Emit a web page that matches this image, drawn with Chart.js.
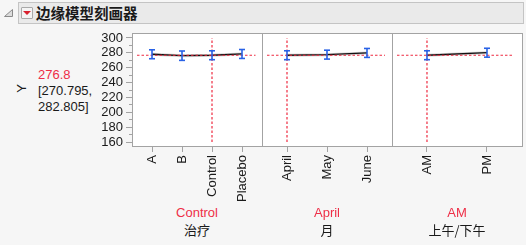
<!DOCTYPE html>
<html lang="zh">
<head>
  <meta charset="UTF-8" />
  <title>边缘模型刻画器</title>
  <script src="https://cdn.jsdelivr.net/npm/chart.js"></script>
  <style>
    body { margin: 0; width: 526px; height: 245px; background: #F6F6F6; position: relative; overflow: hidden;
           font-family: "Liberation Sans", Arial, "Noto Sans CJK SC", sans-serif; color: #1A1A1A; }
    .abs { position: absolute; white-space: nowrap; }
    canvas { position: absolute; top: 28px; }
    .titlebar { left: 18px; top: 2px; width: 504px; height: 20px; background: #EAEAEA; border: 1px solid #C4C4C4; }
    .btn { left: 21px; top: 7px; width: 10px; height: 10px; border: 1px solid #A9A9A9; background: #F4F4F4; border-radius: 1px; }
    .btn::after { content: ""; position: absolute; left: 1px; top: 3px; border-left: 4px solid transparent;
                  border-right: 4px solid transparent; border-top: 4px solid #D8202E; }
    .title { left: 36px; top: 4px; font: bold 14.5px "Noto Sans CJK SC", sans-serif; line-height: 18px; }
    .side { left: 38px; font-size: 13px; line-height: 15px; }
    .red { color: #EE2E47; }
    .foot { font-size: 13px; line-height: 15px; transform: translateX(-50%); }
    .cjk { font-family: "Noto Sans CJK SC", sans-serif; }
  </style>
</head>
<body>
  <svg class="abs" style="left:4px;top:9px" width="10" height="9"><polygon points="8.5,0.5 8.5,7.5 0.5,7.5" fill="#DDD" stroke="#8A8A8A" stroke-width="1"/></svg>
  <div class="abs titlebar"></div>
  <div class="abs btn"></div>
  <div class="abs title">边缘模型刻画器</div>

  <div class="abs" style="left:17px;top:81px;font-size:13px;transform:rotate(-90deg)">Y</div>
  <div class="abs side red" style="top:67px">276.8</div>
  <div class="abs side" style="top:83px">[270.795,</div>
  <div class="abs side" style="top:99px">282.805]</div>

  <canvas id="c1" width="174" height="177" style="left:90px"></canvas>
  <canvas id="c2" width="132" height="177" style="left:262px"></canvas>
  <canvas id="c3" width="132" height="177" style="left:392px"></canvas>

  <div class="abs foot red" style="left:197px;top:205px">Control</div>
  <div class="abs foot cjk" style="left:197px;top:222px">治疗</div>
  <div class="abs foot red" style="left:327px;top:205px">April</div>
  <div class="abs foot cjk" style="left:327px;top:222px">月</div>
  <div class="abs foot red" style="left:457px;top:205px">AM</div>
  <div class="abs foot cjk" style="left:457px;top:222px">上午/下午</div>

  <script>
    // factor levels and marginal means with 95% limits
    const treatments = ['A', 'B', 'Control', 'Placebo'];
    const treatMean = [278.1, 276.2, 276.8, 278.5];
    const treatLo = [272.1, 269.9, 270.795, 272.5];
    const treatHi = [284.1, 282.5, 282.805, 284.5];

    const months = ['April', 'May', 'June'];
    const monthMean = [276.8, 277.6, 279.9];
    const monthLo = [270.795, 271.6, 273.9];
    const monthHi = [282.805, 283.6, 285.9];

    const ampm = ['AM', 'PM'];
    const ampmMean = [276.8, 280.2];
    const ampmLo = [270.795, 274.2];
    const ampmHi = [282.805, 286.2];

    const current = 276.8;
    const yTicks = [160, 180, 200, 220, 240, 260, 280, 300];
    const yMinorTicks = [170, 190, 210, 230, 250, 270, 290];

    const RED = '#EE2A40';
    const BLUE = '#2962E6';
    const GRAY = '#A3A3A3';

    Chart.defaults.font.family = '"Liberation Sans", Arial, sans-serif';
    Chart.defaults.font.size = 13;
    Chart.defaults.color = '#1A1A1A';

    const panelPlugin = {
      id: 'panel',
      beforeDraw(chart) {
        const a = chart.chartArea, ctx = chart.ctx;
        ctx.save();
        ctx.fillStyle = '#FFFFFF';
        ctx.fillRect(a.left, a.top, a.right - a.left, a.bottom - a.top);
        ctx.strokeStyle = GRAY;
        ctx.lineWidth = 1;
        ctx.strokeRect(a.left + 0.5, a.top + 0.5, a.right - a.left - 1, a.bottom - a.top - 1);
        ctx.restore();
      }
    };

    function makePanel(id, cats, mean, lo, hi, curIdx, xMin, xMax, showY) {
      const datasets = [];
      cats.forEach((c, i) => {
        datasets.push({
          data: [{ x: i, y: lo[i] }, { x: i, y: hi[i] }],
          borderColor: BLUE, borderWidth: 1.6,
          pointStyle: 'line', pointRadius: 3, pointBorderWidth: 1.6,
          pointBorderColor: BLUE, pointHoverRadius: 3
        });
      });
      datasets.push({
        data: [{ x: -0.5, y: current }, { x: cats.length - 0.55, y: current }],
        borderColor: RED, borderWidth: 1.2, borderDash: [2.5, 2], pointRadius: 0
      });
      datasets.push({
        data: [{ x: curIdx, y: yTicks[0] }, { x: curIdx, y: yTicks[yTicks.length - 1] }],
        borderColor: RED, borderWidth: 1.2, borderDash: [2.5, 2], pointRadius: 0
      });
      datasets.push({
        data: cats.map((c, i) => ({ x: i, y: mean[i] })),
        borderColor: '#111111', borderWidth: 1.3, pointRadius: 0
      });
      datasets.push({
        data: cats.map((c, i) => ({ x: i, y: mean[i] })),
        borderColor: 'rgba(140,140,140,0.35)', borderWidth: 3, pointRadius: 0
      });

      const scales = {
        x: {
          type: 'linear', position: 'bottom', min: xMin, max: xMax,
          afterBuildTicks: s => { s.ticks = cats.map((c, i) => ({ value: i })); },
          afterFit: s => { s.height = 58; s.paddingLeft = 0; s.paddingRight = 0; },
          ticks: { callback: v => cats[v], minRotation: 90, maxRotation: 90, autoSkip: false, padding: 3 },
          grid: { drawOnChartArea: false, drawTicks: true, tickLength: 5, color: GRAY },
          border: { display: false }
        },
        y: {
          display: showY, position: 'left', weight: 1, min: 153.27, max: 306.73,
          afterBuildTicks: s => { s.ticks = yTicks.map(v => ({ value: v })); },
          afterFit: s => { s.width = showY ? 42 : 0; s.paddingTop = 0; s.paddingBottom = 0; },
          ticks: { padding: 3, autoSkip: false },
          grid: { drawOnChartArea: false, drawTicks: true, tickLength: 6, color: GRAY },
          border: { display: false }
        }
      };
      if (showY) {
        scales.ym = {
          position: 'left', weight: 0, min: 153.27, max: 306.73,
          afterBuildTicks: s => { s.ticks = yMinorTicks.map(v => ({ value: v })); },
          afterFit: s => { s.width = 0; s.paddingTop = 0; s.paddingBottom = 0; },
          ticks: { display: false, autoSkip: false },
          grid: { drawOnChartArea: false, drawTicks: true, tickLength: 3, color: GRAY },
          border: { display: false }
        };
      }

      return new Chart(document.getElementById(id), {
        type: 'line',
        data: { datasets },
        plugins: [panelPlugin],
        options: {
          responsive: false,
          animation: false,
          layout: { autoPadding: false, padding: { top: 5, right: 1, left: 0, bottom: 0 } },
          plugins: { legend: { display: false }, tooltip: { enabled: false } },
          scales
        }
      });
    }

    makePanel('c1', treatments, treatMean, treatLo, treatHi, 2, -0.667, 3.7, true);
    makePanel('c2', months, monthMean, monthLo, monthHi, 0, -0.625, 2.65, false);
    makePanel('c3', ampm, ampmMean, ampmLo, ampmHi, 0, -0.583, 1.6, false);
  </script>
</body>
</html>
